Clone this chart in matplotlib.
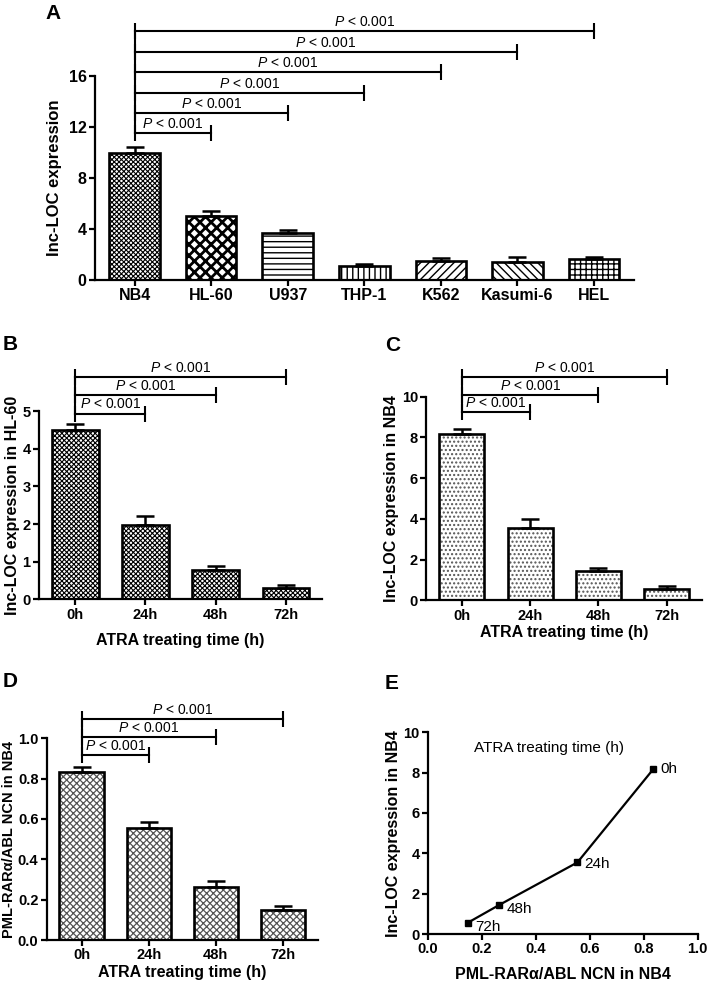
import numpy as np
import matplotlib.pyplot as plt

plt.rcParams['font.family'] = ['Liberation Sans', 'DejaVu Sans']
plt.rcParams['font.weight'] = 'bold'
plt.rcParams['axes.labelweight'] = 'bold'
plt.rcParams['mathtext.fontset'] = 'custom'
plt.rcParams['mathtext.it'] = 'Liberation Sans:style=italic:weight=normal'
plt.rcParams['mathtext.rm'] = 'Liberation Sans:weight=normal'
plt.rcParams['hatch.linewidth'] = 1.0

# panel A: lnc-LOC expression in cell lines
cell_lines = ['NB4', 'HL-60', 'U937', 'THP-1', 'K562', 'Kasumi-6', 'HEL']
cell_expr = [10.0, 5.02, 3.66, 1.10, 1.52, 1.44, 1.62]
cell_err = [0.45, 0.42, 0.26, 0.13, 0.23, 0.36, 0.21]

# panels B-E: ATRA time course
time_labels = ['0h', '24h', '48h', '72h']
hl60_expr = [4.51, 1.97, 0.78, 0.31]
hl60_err = [0.15, 0.24, 0.11, 0.07]
nb4_expr = [8.17, 3.55, 1.44, 0.57]
nb4_err = [0.25, 0.42, 0.13, 0.12]
pml_ncn = [0.835, 0.554, 0.264, 0.149]
pml_err = [0.025, 0.033, 0.029, 0.020]

p_text = r'$\mathit{P}$ < 0.001'


def style_axes(ax):
    for s in ['top', 'right']:
        ax.spines[s].set_visible(False)
    for s in ['left', 'bottom']:
        ax.spines[s].set_linewidth(1.6)
    ax.tick_params(direction='out', length=4, width=1.6, labelsize=10.5, pad=2)


def draw_bars(ax, labels, vals, errs, hatches, hcolor='black', hlw=None, width=0.66):
    x = np.arange(len(vals))
    for i in range(len(vals)):
        b = ax.bar(x[i], vals[i], width, color='white', edgecolor=hcolor,
                   hatch=hatches[i], linewidth=0, zorder=2)[0]
        if hlw is not None and hasattr(b, 'set_hatch_linewidth'):
            b.set_hatch_linewidth(hlw[i])
    ax.bar(x, vals, width, fill=False, edgecolor='black', linewidth=1.9, zorder=3)
    ax.errorbar(x, vals, yerr=[np.zeros(len(errs)), errs], fmt='none', ecolor='black',
                elinewidth=1.8, capsize=6.5, capthick=1.8, zorder=2)
    ax.set_xticks(x)
    ax.set_xticklabels(labels)
    ax.set_xlim(-0.52, len(vals) - 0.48)


def brackets(ax, targets, base, step, fs=10):
    levels = [base + k * step for k in range(len(targets))]
    ax.plot([0, 0], [levels[0], levels[-1]], color='black', lw=1.5, clip_on=False)
    for t, y in zip(targets, levels):
        ax.plot([0, t], [y, y], color='black', lw=1.5, marker='|', ms=12, mew=1.5,
                clip_on=False)
        ax.annotate(p_text, ((0 + t) / 2, y), xytext=(0, 1.5), textcoords='offset points',
                    ha='center', va='bottom', fontsize=fs, fontweight='normal',
                    annotation_clip=False)


fig = plt.figure(figsize=(7.08, 9.84), dpi=100)

# ---- A ----
axA = fig.add_axes([0.134, 0.7154, 0.761, 0.2073])
draw_bars(axA, cell_lines, cell_expr, cell_err,
          ['xxxxxxx', 'xxx', '---', '|||', '////', '\\\\\\\\', '+++'],
          hlw=[0.8, 2.0, 1.0, 1.0, 1.0, 1.0, 1.0])
axA.set_ylim(0, 16)
axA.set_yticks([0, 4, 8, 12, 16])
axA.set_ylabel('Inc-LOC expression', fontsize=12, labelpad=5)
style_axes(axA)
axA.tick_params(labelsize=11.5)
brackets(axA, [1, 2, 3, 4, 5, 6], 11.5, 1.6)

# ---- B ----
axB = fig.add_axes([0.055, 0.391, 0.400, 0.191])
draw_bars(axB, time_labels, hl60_expr, hl60_err, ['xxxxxxx'] * 4, hlw=[0.8] * 4)
axB.set_ylim(0, 5)
axB.set_yticks([0, 1, 2, 3, 4, 5])
axB.set_ylabel('Inc-LOC expression in HL-60', fontsize=11.5, labelpad=2)
axB.set_xlabel('ATRA treating time (h)', fontsize=11.5, labelpad=8)
style_axes(axB)
brackets(axB, [1, 2, 3], 4.94, 0.485)

# ---- C ----
axC = fig.add_axes([0.602, 0.390, 0.390, 0.207])
draw_bars(axC, time_labels, nb4_expr, nb4_err, ['....'] * 4, hcolor='#555555')
axC.set_ylim(0, 10)
axC.set_yticks([0, 2, 4, 6, 8, 10])
axC.set_ylabel('Inc-LOC expression in NB4', fontsize=11.5, labelpad=2)
axC.set_xlabel('ATRA treating time (h)', fontsize=11.5, labelpad=2)
style_axes(axC)
brackets(axC, [1, 2, 3], 9.23, 0.86)

# ---- D ----
axD = fig.add_axes([0.066, 0.0447, 0.383, 0.205])
draw_bars(axD, time_labels, pml_ncn, pml_err, ['xxxxx'] * 4, hcolor='#555555',
          hlw=[0.9] * 4)
axD.set_ylim(0, 1.0)
axD.set_yticks([0, 0.2, 0.4, 0.6, 0.8, 1.0])
axD.set_yticklabels(['0.0', '0.2', '0.4', '0.6', '0.8', '1.0'])
axD.set_ylabel('PML-RARα/ABL NCN in NB4', fontsize=10.5, labelpad=1)
axD.set_xlabel('ATRA treating time (h)', fontsize=11.5, labelpad=2)
style_axes(axD)
brackets(axD, [1, 2, 3], 0.919, 0.089)

# ---- E ----
axE = fig.add_axes([0.6045, 0.0508, 0.381, 0.205])
axE.plot(pml_ncn, nb4_expr, color='black', lw=1.6, marker='s', ms=5)
offsets = [(5, 0), (5, -1), (5, -3), (5, -3)]
for xv, yv, lab, off in zip(pml_ncn, nb4_expr, time_labels, offsets):
    axE.annotate(lab, (xv, yv), xytext=off, textcoords='offset points',
                 ha='left', va='center', fontsize=11, fontweight='normal')
axE.text(0.17, 9.2, 'ATRA treating time (h)', fontsize=11, fontweight='normal',
         ha='left', va='center')
axE.set_xlim(0, 1.0)
axE.set_ylim(0, 10)
axE.set_xticks([0, 0.2, 0.4, 0.6, 0.8, 1.0])
axE.set_xticklabels(['0.0', '0.2', '0.4', '0.6', '0.8', '1.0'])
axE.set_yticks([0, 2, 4, 6, 8, 10])
axE.set_ylabel('Inc-LOC expression in NB4', fontsize=11.5, labelpad=2)
axE.set_xlabel('PML-RARα/ABL NCN in NB4', fontsize=11.5, labelpad=8)
style_axes(axE)

for letter, (px, py) in zip('ABCDE', [(45, 4), (3, 335), (385, 336), (3, 672), (385, 674)]):
    fig.text(px / 708, 1 - py / 984, letter, fontsize=15, fontweight='bold',
             ha='left', va='top')

fig.savefig('out.png', dpi=100)
